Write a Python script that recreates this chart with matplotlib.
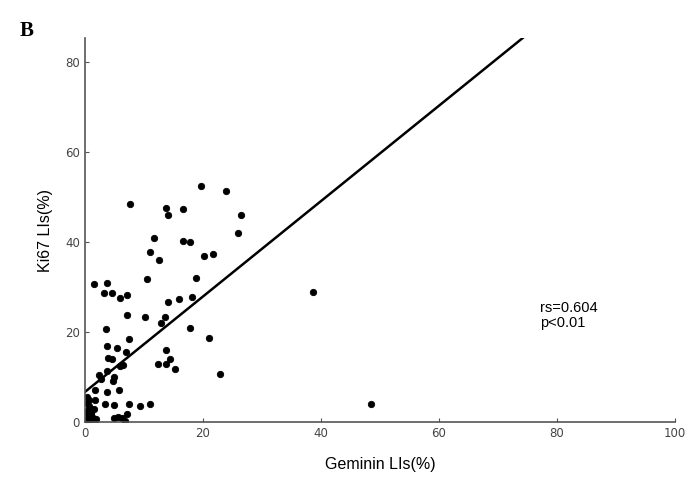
import matplotlib
matplotlib.use('Agg')
import matplotlib.pyplot as plt
import numpy as np

# Geminin LIs (%) vs Ki67 LIs (%)
geminin = [19.6, 23.9, 7.7, 13.7, 14.1, 16.7, 26.4, 26.0, 11.7, 16.6, 17.8, 11.1,
           12.5, 20.2, 21.7, 10.5, 18.8, 1.5, 3.8, 3.2, 4.6, 6.0, 7.1, 14.1, 16.0,
           18.1, 7.1, 10.1, 13.6, 12.9, 3.5, 17.8, 7.5, 21.1, 3.8, 5.5, 6.9, 13.7,
           3.9, 4.5, 14.4, 12.3, 13.8, 15.2, 22.9, 5.9, 6.4, 3.8, 2.3, 2.7, 5.0,
           4.8, 5.8, 3.7, 1.7, 0.3, 1.7, 3.4, 5.0, 7.5, 9.3, 11.0, 5.0, 5.6, 6.2,
           7.1, 6.8, 38.6, 48.4,
           0.2, 0.5, 0.8, 1.0, 1.3, 0.4, 0.9, 1.5, 0.1, 0.6, 1.1, 0.3, 1.8, 0.7]
ki67 = [52.4, 51.3, 48.4, 47.5, 46.1, 47.3, 46.1, 42.1, 40.8, 40.3, 40.0, 37.9,
        36.1, 36.8, 37.3, 31.8, 32.0, 30.6, 31.0, 28.7, 28.7, 27.5, 28.2, 26.6,
        27.3, 27.9, 23.7, 23.4, 23.4, 22.1, 20.7, 21.0, 18.4, 18.6, 16.9, 16.4,
        15.6, 16.1, 14.3, 14.0, 14.0, 12.9, 12.9, 11.7, 10.7, 12.5, 12.7, 11.3,
        10.4, 9.5, 10.1, 9.2, 7.1, 6.6, 7.1, 5.6, 4.9, 3.9, 3.7, 3.9, 3.6, 4.0,
        1.0, 1.2, 1.0, 1.8, 0.3, 28.9, 4.0,
        0.5, 1.5, 3.0, 2.2, 0.8, 4.2, 0.2, 2.8, 1.0, 3.5, 1.8, 2.5, 0.6, 5.0]

intercept = 6.7
slope = 1.06
rs_text = 'rs=0.604\np<0.01'

fig = plt.figure(figsize=(6.88, 4.84), dpi=100)
ax = fig.add_axes([0.1235, 0.128, 0.8575, 0.793])

ax.plot(geminin, ki67, 'o', color='black', ms=4.6, mec='black', mew=0.6)
xs = np.array([0, 100])
ax.plot(xs, intercept + slope * xs, color='black', lw=1.8)

ax.set_xlim(0, 100)
ax.set_ylim(0, 85.3)
ax.set_xticks([0, 20, 40, 60, 80, 100])
ax.set_yticks([0, 20, 40, 60, 80])

for s in ['top', 'right']:
    ax.spines[s].set_visible(False)
for s in ['left', 'bottom']:
    ax.spines[s].set_color('#555555')
    ax.spines[s].set_linewidth(1.2)

ax.tick_params(direction='in', length=3, color='#555555', labelcolor='#444444',
               labelsize=8.5)
for lab in ax.get_xticklabels() + ax.get_yticklabels():
    lab.set_family(['Liberation Sans Narrow', 'DejaVu Sans'])

ax.set_xlabel('Geminin LIs(%)', fontsize=11.5, family='Liberation Sans', labelpad=12)
ax.set_ylabel('Ki67 LIs(%)', fontsize=11.5, family='Liberation Sans', labelpad=9)

ax.text(77.1, 23.6, rs_text, fontsize=10.5, family='Liberation Sans',
        va='center', ha='left', linespacing=1.1)

fig.text(0.029, 0.935, 'B', fontsize=15, fontweight='bold',
         family='Liberation Serif', va='center')

fig.savefig('out.png', dpi=100)
